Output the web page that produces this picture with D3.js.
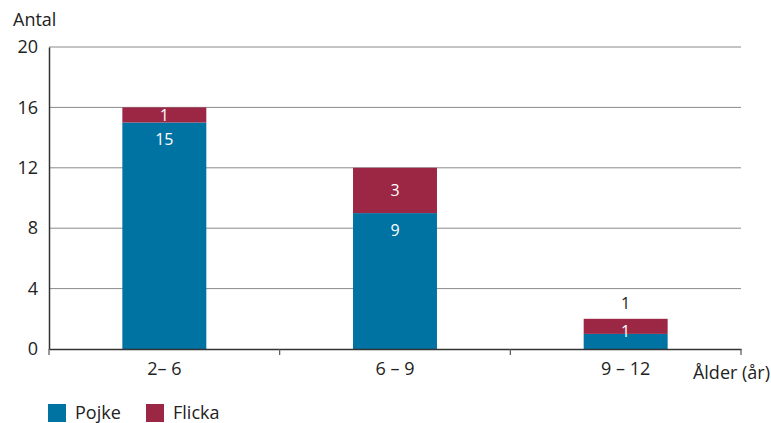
<!DOCTYPE html>
<html>
<head>
<meta charset="utf-8">
<script src="https://cdn.jsdelivr.net/npm/d3@7"></script>
<style>
  body { margin: 0; background: #fff; }
  text { font-family: "Open Sans", "Noto Sans", sans-serif; }
</style>
</head>
<body>
<div id="chart"></div>
<script>
// Data
const categories = ["2– 6", "6 – 9", "9 – 12"];
const pojke = [15, 9, 1];
const flicka = [1, 3, 1];
const yTicks = [0, 4, 8, 12, 16, 20];
const seriesNames = ["Pojke", "Flicka"];

const colors = { Pojke: "#0073a3", Flicka: "#9c2745" };

const width = 771, height = 423;
const margins = { top: 47, right: 30, bottom: 74, left: 49 };

const svg = d3.select("#chart")
  .append("svg")
  .attr("width", width)
  .attr("height", height);

const data = categories.map((c, i) => ({ cat: c, Pojke: pojke[i], Flicka: flicka[i] }));
const stacked = d3.stack().keys(seriesNames)(data);

/* Scales */
const xScale = d3.scaleBand()
  .domain(categories)
  .range([margins.left, width - margins.right])
  .paddingInner(0.636)
  .paddingOuter(0.318);

const yScale = d3.scaleLinear()
  .domain([0, 20])
  .range([height - margins.bottom, margins.top]);

/* Gridlines */
svg.append("g")
  .selectAll("line")
  .data(yTicks.filter(d => d > 0))
  .join("line")
    .attr("x1", margins.left)
    .attr("x2", width - margins.right)
    .attr("y1", d => yScale(d))
    .attr("y2", d => yScale(d))
    .attr("stroke", "#8a8a8a")
    .attr("stroke-width", 1);

/* Bars */
const groups = svg.append("g")
  .selectAll("g")
  .data(stacked)
  .join("g")
    .attr("fill", d => colors[d.key]);

groups.selectAll("rect")
  .data(d => d)
  .join("rect")
    .attr("x", d => xScale(d.data.cat))
    .attr("y", d => yScale(d[1]))
    .attr("width", xScale.bandwidth())
    .attr("height", d => yScale(d[0]) - yScale(d[1]));

/* Value labels: Pojke near the top of its segment, Flicka centred
   (or above the bar when the bar is too short) */
const small = d => yScale(d[0]) - yScale(d[1]) < 20;
stacked.forEach(s => {
  svg.append("g")
    .selectAll("text")
    .data(s)
    .join("text")
      .attr("x", d => xScale(d.data.cat) + xScale.bandwidth() / 2)
      .attr("y", d => {
        const top = yScale(d[1]), bot = yScale(d[0]);
        if (s.key === "Pojke") return small(d) ? top - 3 : top + 17;
        if (small(d) && d[0] < 2) return top - 16;
        return (top + bot) / 2;
      })
      .attr("dy", "0.36em")
      .attr("text-anchor", "middle")
      .style("font-size", "16px")
      .style("fill", d => (s.key === "Flicka" && small(d) && d[0] < 2) ? "#222" : "#fff")
      .text(d => d[1] - d[0]);
});

/* Y axis */
const yGroup = svg.append("g")
  .attr("transform", `translate(${margins.left}, 0)`)
  .call(d3.axisLeft(yScale).tickValues(yTicks).tickSize(0).tickPadding(11))
  .call(g => g.select(".domain").attr("stroke", "#333").attr("stroke-width", 1.5));
yGroup.selectAll("text")
  .style("font-size", "18px")
  .style("fill", "#222");

/* X axis */
const xGroup = svg.append("g")
  .attr("transform", `translate(0, ${height - margins.bottom})`)
  .call(d3.axisBottom(xScale).tickSize(0).tickPadding(13))
  .call(g => g.select(".domain").attr("stroke", "#333").attr("stroke-width", 1.5));
xGroup.selectAll("text")
  .style("font-size", "18px")
  .style("fill", "#222");

// tick marks at the category boundaries
const bounds = [margins.left].concat(categories.map((c, i) =>
  i < categories.length - 1 ? (xScale(c) + xScale.bandwidth() + xScale(categories[i + 1])) / 2 : width - margins.right));
xGroup.selectAll("line.bound")
  .data(bounds)
  .join("line")
    .attr("class", "bound")
    .attr("x1", d => d)
    .attr("x2", d => d)
    .attr("y1", 0)
    .attr("y2", 6)
    .attr("stroke", "#555")
    .attr("stroke-width", 1.2);

/* Axis titles */
svg.append("text")
  .attr("x", 13)
  .attr("y", 26)
  .style("font-size", "18px")
  .style("fill", "#222")
  .text("Antal");

svg.append("text")
  .attr("x", width - 1)
  .attr("y", 379)
  .attr("text-anchor", "end")
  .style("font-size", "18px")
  .style("fill", "#222")
  .text("Ålder (år)");

/* Legend */
const legend = svg.append("g")
  .selectAll("g")
  .data(seriesNames)
  .join("g")
    .attr("transform", (d, i) => `translate(${48 + i * 98}, 404)`);
legend.append("rect")
  .attr("width", 18)
  .attr("height", 18)
  .attr("fill", d => colors[d]);
legend.append("text")
  .attr("x", 27)
  .attr("y", 15)
  .style("font-size", "18px")
  .style("fill", "#222")
  .text(d => d);
</script>
</body>
</html>
